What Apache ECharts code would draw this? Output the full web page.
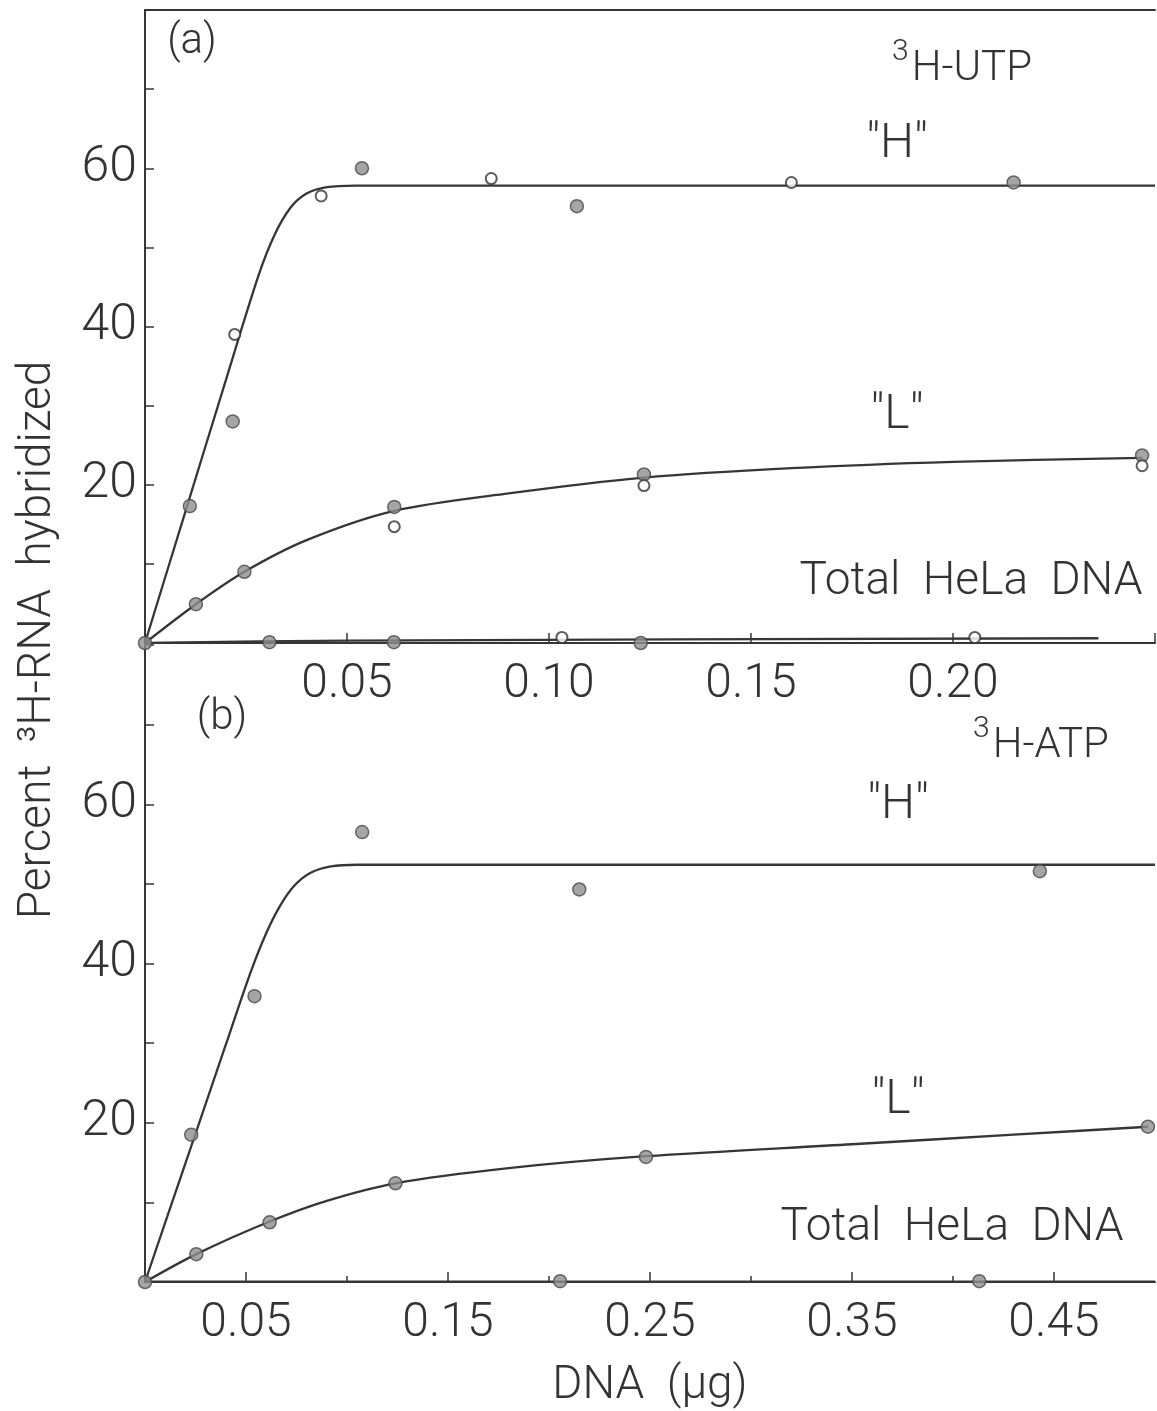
<!DOCTYPE html>
<html>
<head>
<meta charset="utf-8">
<script src="https://cdn.jsdelivr.net/npm/echarts@6/dist/echarts.min.js"></script>
<style>
  html, body { margin: 0; padding: 0; background: #fff; }
  #chart { width: 1157px; height: 1411px; }
</style>
</head>
<body>
<div id="chart"></div>
<script>
// ---------- DATA ----------
// Panel (a): 3H-UTP, x = DNA (µg), y = percent hybridized
const utpHFilled = [[0, 0], [0.0111, 17.3], [0.0217, 28.0], [0.0537, 60.0], [0.1069, 55.2], [0.215, 58.2]];
const utpHOpen   = [[0.0222, 39.0], [0.0436, 56.5], [0.0857, 58.7], [0.160, 58.2]];
const utpHCurve  = [[0, 0], [0.01, 16.6], [0.02, 33.2], [0.028, 46.3], [0.032, 51.5], [0.036, 55.0], [0.040, 56.8], [0.045, 57.6], [0.052, 57.8], [0.08, 57.8], [0.15, 57.8], [0.25, 57.8]];

const utpLFilled = [[0.0126, 4.9], [0.0246, 9.0], [0.0617, 17.2], [0.1235, 21.3], [0.2468, 23.7]];
const utpLOpen   = [[0.0617, 14.7], [0.1235, 19.9], [0.2468, 22.4]];
const utpLCurve  = [[0, 0], [0.0126, 4.9], [0.0246, 9.0], [0.04, 13.0], [0.0617, 16.7], [0.09, 18.9], [0.1235, 20.9], [0.16, 22.1], [0.2, 22.9], [0.2468, 23.4]];

const utpTFilled = [[0.0308, 0.1], [0.0616, 0.1], [0.1227, 0.0]];
const utpTOpen   = [[0.1032, 0.7], [0.2054, 0.7]];
const utpTCurve  = [[0, 0], [0.05, 0.3], [0.236, 0.6]];

// Panel (b): 3H-ATP
const atpHFilled = [[0, 0], [0.0229, 18.5], [0.0542, 35.9], [0.1075, 56.5], [0.215, 49.3], [0.443, 51.6]];
const atpHCurve  = [[0, 0], [0.02, 14.9], [0.04, 29.8], [0.052, 38.7], [0.06, 43.8], [0.067, 47.3], [0.074, 49.8], [0.082, 51.4], [0.092, 52.2], [0.105, 52.4], [0.15, 52.4], [0.3, 52.4], [0.5, 52.4]];

const atpLFilled = [[0.0254, 3.5], [0.0617, 7.5], [0.124, 12.4], [0.248, 15.7], [0.4965, 19.5]];
const atpLCurve  = [[0, 0], [0.0254, 3.5], [0.0617, 7.6], [0.09, 10.2], [0.124, 12.4], [0.18, 14.3], [0.248, 15.8], [0.35, 17.3], [0.43, 18.5], [0.4965, 19.5]];

const atpTFilled = [[0.2055, 0.1], [0.413, 0.1]];
const atpTCurve  = [[0, 0.05], [0.5, 0.05]];

// Tick labels
const xTickLabelsA = ['0.05', '0.10', '0.15', '0.20'];
const xTickLabelsB = ['0.05', '0.15', '0.25', '0.35', '0.45'];
const xMinorTicksB = [0.10, 0.20, 0.30, 0.40];
const yTickLabels  = ['20', '40', '60'];

// ---------- STYLE ----------
const INK = '#363636';
const FONT = 'Roboto, "Liberation Sans", sans-serif';
const FW = 300;

function curve(data, xi, yi) {
  return { type: 'line', data, xAxisIndex: xi, yAxisIndex: yi, showSymbol: false, smooth: 0.3,
    lineStyle: { color: INK, width: 2.3 }, z: 2, silent: true };
}
function filled(data, xi, yi) {
  return { type: 'scatter', data, xAxisIndex: xi, yAxisIndex: yi, symbol: 'circle', symbolSize: 13,
    itemStyle: { color: '#8e8e8e', borderColor: '#4a4a4a', borderWidth: 1.5 }, z: 4, silent: true };
}
function open(data, xi, yi) {
  return { type: 'scatter', data, xAxisIndex: xi, yAxisIndex: yi, symbol: 'circle', symbolSize: 11,
    itemStyle: { color: '#ffffff', borderColor: '#333', borderWidth: 2 }, z: 5, silent: true };
}

const labelStyle = { fontSize: 48, fontFamily: FONT, fontWeight: FW, color: '#333' };

const chart = echarts.init(document.getElementById('chart'), null, { renderer: 'canvas' });

function yAxisCfg(gridIndex) {
  return {
    type: 'value', gridIndex, min: 0, max: 80, interval: 10,
    axisLine: { show: true, lineStyle: { color: INK, width: 2 } },
    axisTick: { show: true, inside: true, length: 9, lineStyle: { color: INK, width: 1.5 } },
    splitLine: { show: false },
    axisLabel: Object.assign({}, labelStyle, { margin: 8, fontSize: 50,
      formatter: v => { const s = String(v); return yTickLabels.includes(s) ? s : ''; } })
  };
}

function txt(text, x, y, size, extra) {
  return Object.assign({
    type: 'text', x, y, silent: true,
    style: { text, fontSize: size, fontFamily: FONT, fontWeight: FW, fill: '#333',
      textAlign: 'center', textVerticalAlign: 'middle', align: 'center', verticalAlign: 'middle' }
  }, extra || {});
}
function supTxt(sup, rest, x, y, size) {
  return {
    type: 'text', x, y, silent: true,
    style: {
      text: '{s|' + sup + '}{m|' + rest + '}', fontFamily: FONT, fontWeight: FW, fill: '#333',
      textAlign: 'center', textVerticalAlign: 'middle', align: 'center', verticalAlign: 'middle',
      rich: {
        s: { fontSize: Math.round(size * 0.72), fontFamily: FONT, fontWeight: FW, fill: '#333', verticalAlign: 'top', lineHeight: Math.round(size * 1.25), padding: [0, 3, 0, 0] },
        m: { fontSize: size, fontFamily: FONT, fontWeight: FW, fill: '#333', verticalAlign: 'bottom', lineHeight: Math.round(size * 1.25) }
      }
    }
  };
}

chart.setOption({
  backgroundColor: '#ffffff',
  animation: false,
  grid: [
    { left: 145, right: 2, top: 10, height: 633, containLabel: false, outerBoundsMode: 'none' },
    { left: 145, right: 2, top: 645, height: 637, containLabel: false, outerBoundsMode: 'none' }
  ],
  xAxis: [
    { // panel (a) bottom axis
      type: 'value', gridIndex: 0, min: 0, max: 0.25, interval: 0.05, position: 'bottom',
      axisLine: { show: true, lineStyle: { color: INK, width: 2 } },
      axisTick: { show: true, inside: true, length: 10, lineStyle: { color: INK, width: 1.5 } },
      splitLine: { show: false },
      axisLabel: Object.assign({}, labelStyle, { margin: 18,
        formatter: v => { const s = v.toFixed(2); return xTickLabelsA.includes(s) ? s : ''; } })
    },
    { // panel (a) top frame line
      type: 'value', gridIndex: 0, min: 0, max: 0.25, position: 'top',
      axisLine: { show: true, lineStyle: { color: INK, width: 2 } },
      axisTick: { show: false }, axisLabel: { show: false }, splitLine: { show: false }
    },
    { // panel (b) bottom axis, labelled ticks
      type: 'value', gridIndex: 1, min: 0, max: 0.5, interval: 0.05, position: 'bottom',
      axisLine: { show: true, lineStyle: { color: INK, width: 2 } },
      axisTick: { show: true, inside: true, length: 10, customValues: xTickLabelsB.map(Number), lineStyle: { color: INK, width: 1.5 } },
      splitLine: { show: false },
      axisLabel: Object.assign({}, labelStyle, { margin: 18, customValues: xTickLabelsB.map(Number),
        formatter: v => v.toFixed(2) }),
      name: 'DNA  (µg)', nameLocation: 'middle', nameGap: 81,
      nameTextStyle: { fontSize: 46, fontFamily: FONT, fontWeight: FW, color: '#333' }
    },
    { // panel (b) minor ticks
      type: 'value', gridIndex: 1, min: 0, max: 0.5, position: 'bottom',
      axisLine: { show: false },
      axisTick: { show: true, inside: true, length: 6, customValues: xMinorTicksB, lineStyle: { color: INK, width: 1.5 } },
      axisLabel: { show: false }, splitLine: { show: false }
    }
  ],
  yAxis: [yAxisCfg(0), yAxisCfg(1)],
  series: [
    curve(utpHCurve, 0, 0), curve(utpLCurve, 0, 0), curve(utpTCurve, 0, 0),
    filled(utpHFilled, 0, 0), open(utpHOpen, 0, 0),
    filled(utpLFilled, 0, 0), open(utpLOpen, 0, 0),
    filled(utpTFilled, 0, 0), open(utpTOpen, 0, 0),
    curve(atpHCurve, 2, 1), curve(atpLCurve, 2, 1), curve(atpTCurve, 2, 1),
    filled(atpHFilled, 2, 1), filled(atpLFilled, 2, 1), filled(atpTFilled, 2, 1)
  ],
  graphic: [
    txt('Percent  ³H-RNA  hybridized', 38, 640, 46, { rotation: Math.PI / 2 }),
    txt('(a)', 192, 42, 42),
    supTxt('3', 'H-UTP', 962, 64, 42),
    txt('"H"', 897, 145, 48),
    txt('"L"', 897, 416, 48),
    txt('Total  HeLa  DNA', 971, 582, 46),
    txt('(b)', 222, 718, 42),
    supTxt('3', 'H-ATP', 1041, 741, 42),
    txt('"H"', 898, 806, 48),
    txt('"L"', 898, 1101, 48),
    txt('Total  HeLa  DNA', 952, 1228, 46)
  ]
});
</script>
</body>
</html>
